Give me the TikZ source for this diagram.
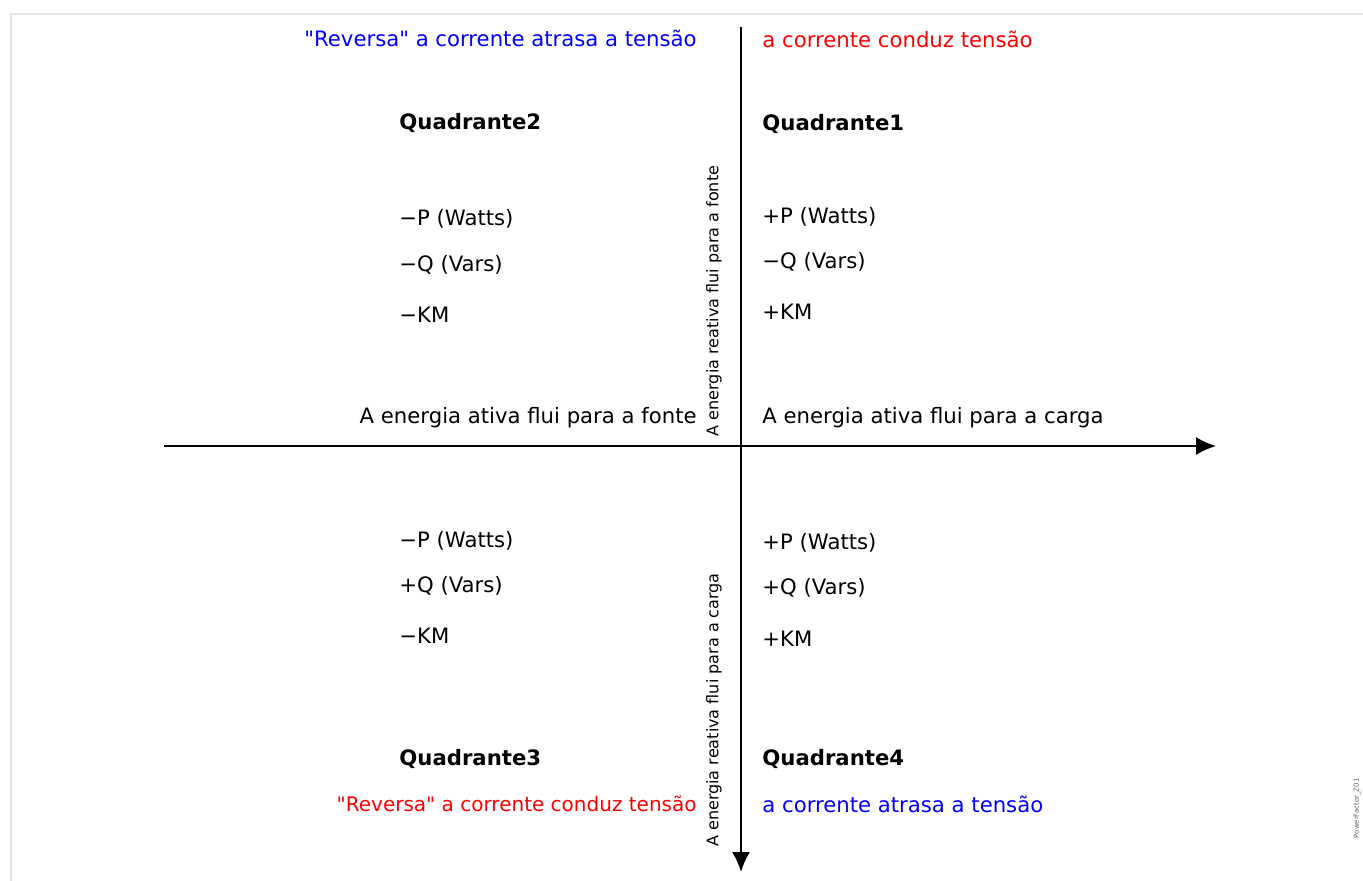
\documentclass[tikz,border=0pt]{standalone}
\usepackage{fontspec}
\setmainfont{DejaVu Sans}[Ligatures=TeXOff]
\usepackage{tikz}
\usetikzlibrary{
  arrows.meta,
  positioning
}
\tikzset{
  quadtext/.style={inner sep=0pt, yshift=-1pt, font=\fontsize{10.6}{12.7}\selectfont},
  axis/.style={-{Latex[length=10pt, width=9pt]}, line width=1pt},
  flowtext/.style={inner sep=0pt, rotate=90, font=\fontsize{8}{9.6}\selectfont}
}
\usepackage{xcolor}

\begin{document}
\begin{tikzpicture}[
    x=0.5pt, y=-0.5pt,
    left/.style={quadtext, anchor=west},
    right/.style={quadtext, anchor=east},
    title/.style={quadtext, anchor=west, font=\fontsize{10.6}{12.7}\selectfont\bfseries}
]
\useasboundingbox (0,0) rectangle (1363,880);

% frame
\draw[black!10, line width=1pt] (10.5,900) -- (10.5,13.5) -- (1400,13.5);

% axes
\coordinate (west)  at (164,446);
\coordinate (east)  at (1216,446);
\coordinate (north) at (741,27);
\coordinate (south) at (741,872);
\draw[axis] (west) -- (east);
\draw[axis] (north) -- (south);

% top
\node[right, text=blue] (q2lag) at (697,36) {"Reversa" a corrente atrasa a tensão};
\node[left,  text=red]  (q1lead) at (762,37) {a corrente conduz tensão};

% quadrant 2
\node[title] (q2) at (399,121) {Quadrante2};
\node[left]  (q2p) at (399,217) {−P (Watts)};
\node[left]  (q2q) at (399,263) {−Q (Vars)};
\node[left]  (q2k) at (399,313) {−KM};

% quadrant 1
\node[title] (q1) at (762,122) {Quadrante1};
\node[left]  (q1p) at (762,215) {+P (Watts)};
\node[left]  (q1q) at (762,260) {−Q (Vars)};
\node[left]  (q1k) at (762,310) {+KM};

% active energy
\node[right] (tosource) at (697,416) {A energia ativa flui para a fonte};
\node[left]  (toload)   at (762,416) {A energia ativa flui para a carga};

% reactive energy
\node[flowtext] (rsource) at (714,301) {A energia reativa flui para a fonte};
\node[flowtext] (rload)   at (714,710) {A energia reativa flui para a carga};

% quadrant 3
\node[left]  (q3p) at (399,539) {−P (Watts)};
\node[left]  (q3q) at (399,584) {+Q (Vars)};
\node[left]  (q3k) at (399,634) {−KM};
\node[title] (q3)  at (399,757) {Quadrante3};

% quadrant 4
\node[left]  (q4p) at (762,541) {+P (Watts)};
\node[left]  (q4q) at (762,586) {+Q (Vars)};
\node[left]  (q4k) at (762,637) {+KM};
\node[title] (q4)  at (762,757) {Quadrante4};

% bottom
\node[right, text=red, font=\fontsize{10}{12}\selectfont] (q3lead) at (697,802) {"Reversa" a corrente conduz tensão};
\node[left,  text=blue] (q4lag)  at (762,802) {a corrente atrasa a tensão};

% figure id
\node[inner sep=0pt, rotate=90, anchor=east, text=black!60,
      font=\fontsize{3.5}{4}\selectfont] (figid) at (1357,778) {PowerFactor\_Z01};

\end{tikzpicture}
\end{document}
